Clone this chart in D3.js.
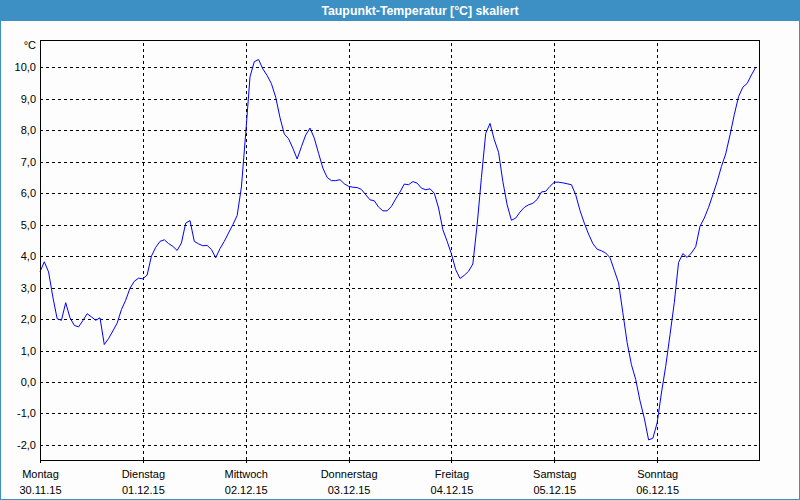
<!DOCTYPE html>
<html>
<head>
<meta charset="utf-8">
<script src="https://cdn.jsdelivr.net/npm/d3@7"></script>
<style>
  html, body { margin: 0; padding: 0; background: #fcfdfc; }
  svg { display: block; }
  text { font-family: "Liberation Sans", Arial, sans-serif; }
</style>
</head>
<body>
<svg id="chart" width="800" height="500"></svg>
<script>
// ---- data ----
const title = "Taupunkt-Temperatur [°C] skaliert";
const unitLabel = "°C";
const dayNames = ["Montag", "Dienstag", "Mittwoch", "Donnerstag", "Freitag", "Samstag", "Sonntag"];
const dayDates = ["30.11.15", "01.12.15", "02.12.15", "03.12.15", "04.12.15", "05.12.15", "06.12.15"];
const yTicks = [-2, -1, 0, 1, 2, 3, 4, 5, 6, 7, 8, 9, 10];
// hourly dew point values starting Monday 30.11.15 00:00
const dewpoint = [
  3.50, 3.82, 3.50, 2.70, 2.01, 1.96, 2.52, 2.04, 1.80, 1.75, 1.95, 2.17,
  2.07, 1.96, 2.04, 1.19, 1.38, 1.62, 1.87, 2.30, 2.60, 2.98, 3.20, 3.30,
  3.28, 3.40, 4.00, 4.28, 4.47, 4.52, 4.40, 4.31, 4.18, 4.42, 5.05, 5.13,
  4.47, 4.39, 4.33, 4.34, 4.21, 3.95, 4.24, 4.47, 4.74, 5.00, 5.29, 6.20,
  7.90, 9.70, 10.18, 10.25, 9.95, 9.74, 9.48, 9.05, 8.40, 7.88, 7.73, 7.43,
  7.09, 7.48, 7.85, 8.07, 7.75, 7.27, 6.80, 6.50, 6.40, 6.40, 6.43, 6.30,
  6.22, 6.19, 6.18, 6.12, 5.95, 5.79, 5.76, 5.56, 5.44, 5.44, 5.58, 5.82,
  6.04, 6.29, 6.27, 6.37, 6.32, 6.16, 6.11, 6.14, 6.00, 5.53, 4.84, 4.47,
  4.07, 3.57, 3.29, 3.39, 3.52, 3.75, 5.00, 6.50, 7.90, 8.22, 7.70, 7.30,
  6.37, 5.63, 5.14, 5.21, 5.40, 5.55, 5.63, 5.68, 5.80, 6.04, 6.06, 6.22,
  6.35, 6.35, 6.33, 6.30, 6.27, 5.95, 5.45, 5.05, 4.70, 4.40, 4.22, 4.17,
  4.10, 3.95, 3.55, 3.15, 2.20, 1.25, 0.55, 0.08, -0.60, -1.15, -1.84, -1.79,
  -1.30, -0.35, 0.50, 1.50, 2.52, 3.80, 4.08, 3.96, 4.10, 4.30, 4.95, 5.21,
  5.55, 5.95, 6.37, 6.85, 7.25, 7.85, 8.50, 9.07, 9.37, 9.49, 9.76, 10.00
];

// ---- layout ----
const W = 800, H = 500;
const pLeft = 40, pRight = 760, pTop = 40, pBottom = 460;
const start = new Date(2015, 10, 30);
const days = dayNames.map((d, i) => d3.timeDay.offset(start, i));

const x = d3.scaleTime().domain([start, d3.timeDay.offset(start, 7)]).range([pLeft, pRight]);
const y = d3.scaleLinear().domain([-2.48, 10.87]).range([pBottom, pTop]);

const svg = d3.select("#chart");

// background & frame
svg.append("rect").attr("x", 0).attr("y", 0).attr("width", W).attr("height", H).attr("fill", "#fcfdfc");
svg.append("rect").attr("x", 0).attr("y", 0).attr("width", W).attr("height", 21).attr("fill", "#3d90c4");
svg.append("rect").attr("x", 0.5).attr("y", 0.5).attr("width", W - 1).attr("height", H - 1)
  .attr("fill", "none").attr("stroke", "#3d90c4").attr("stroke-width", 1);

svg.append("text").attr("x", 420).attr("y", 15).attr("text-anchor", "middle")
  .attr("fill", "#fff").attr("font-weight", "bold").attr("font-size", "12.3px").text(title);

// horizontal grid + y labels
const yAxis = svg.append("g").attr("transform", `translate(${pLeft},0)`)
  .call(d3.axisLeft(y).tickValues(yTicks).tickSize(-(pRight - pLeft)).tickPadding(4)
    .tickFormat(d => d.toFixed(1).replace(".", ",")));
yAxis.select(".domain").remove();
yAxis.selectAll(".tick line").attr("stroke", "#000").attr("stroke-dasharray", "3,3")
  .attr("shape-rendering", "crispEdges");
yAxis.selectAll(".tick text").attr("font-size", "11px").attr("fill", "#000")
  .attr("font-family", "Liberation Sans, Arial, sans-serif");

// unit label
svg.append("text").attr("x", 36).attr("y", 46.5).attr("text-anchor", "end")
  .attr("dominant-baseline", "middle").attr("font-size", "11px").attr("fill", "#000").text(unitLabel);

// vertical grid
const xGrid = svg.append("g").attr("transform", `translate(0,${pBottom})`)
  .call(d3.axisBottom(x).tickValues(days.slice(1)).tickSize(-(pBottom - pTop)).tickFormat(""));
xGrid.select(".domain").remove();
xGrid.selectAll(".tick line").attr("stroke", "#000").attr("stroke-dasharray", "3,3")
  .attr("shape-rendering", "crispEdges");

// bottom ticks + labels
const xAxis = svg.append("g").attr("transform", `translate(0,${pBottom})`)
  .call(d3.axisBottom(x).tickValues(days).tickSize(3).tickFormat(""));
xAxis.select(".domain").remove();
xAxis.selectAll(".tick line").attr("stroke", "#000").attr("shape-rendering", "crispEdges");
xAxis.selectAll(".tick").each(function (d, i) {
  const g = d3.select(this);
  g.append("text").attr("y", 18).attr("text-anchor", "middle").attr("font-size", "11px")
    .attr("fill", "#000").text(dayNames[i]);
  g.append("text").attr("y", 34).attr("text-anchor", "middle").attr("font-size", "11px")
    .attr("fill", "#000").text(dayDates[i]);
});

// data line
const data = dewpoint.map((v, i) => ({ t: d3.timeHour.offset(start, i), v }));
svg.append("path").datum(data)
  .attr("fill", "none").attr("stroke", "#0000ff").attr("stroke-width", 1)
  .attr("d", d3.line().x(d => x(d.t)).y(d => y(d.v)));

// plot frame
svg.append("rect").attr("x", pLeft + 0.5).attr("y", pTop + 0.5)
  .attr("width", pRight - pLeft - 1).attr("height", pBottom - pTop)
  .attr("fill", "none").attr("stroke", "#000").attr("stroke-width", 1.2)
  .attr("shape-rendering", "crispEdges");
</script>
</body>
</html>
